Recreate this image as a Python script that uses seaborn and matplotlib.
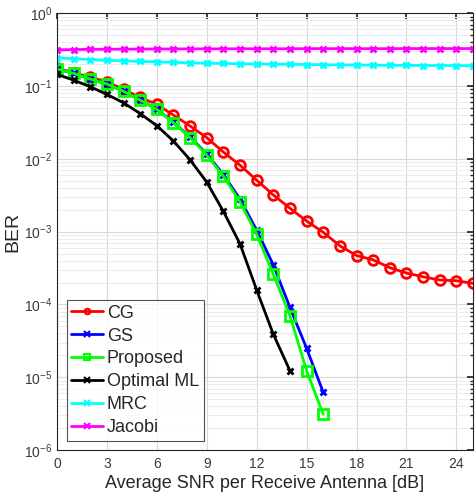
import numpy as np
import pandas as pd
import matplotlib
matplotlib.use("Agg")
import matplotlib.pyplot as plt
import seaborn as sns
from matplotlib.ticker import LogLocator, FixedLocator, NullFormatter

sns.set_theme(style="white")
plt.rcParams['font.family'] = ['Liberation Sans', 'DejaVu Sans']
plt.rcParams['mathtext.fontset'] = 'custom'
plt.rcParams['mathtext.rm'] = 'Liberation Sans'

snr_full = list(range(0, 26))
cg = [0.176, 0.153, 0.132, 0.115, 0.090, 0.070, 0.056, 0.040, 0.0283, 0.0196,
      0.0124, 0.0082, 0.0051, 0.0032, 0.0021, 0.0014, 0.00098, 0.00064, 0.00047,
      0.00041, 0.00032, 0.00027, 0.00024, 0.000217, 0.000212, 0.000195]
snr_16 = list(range(0, 17))
gs = [0.172, 0.150, 0.125, 0.107, 0.085, 0.064, 0.048, 0.0318, 0.0200, 0.0117,
      0.0061, 0.0028, 0.00105, 0.00035, 9.1e-5, 2.5e-5, 6.2e-6]
proposed = [0.172, 0.150, 0.125, 0.107, 0.085, 0.064, 0.048, 0.0314, 0.0196, 0.0113,
            0.0058, 0.00256, 0.00092, 0.00026, 7.0e-5, 1.23e-5, 3.1e-6]
snr_14 = list(range(0, 15))
optimal_ml = [0.145, 0.121, 0.098, 0.077, 0.059, 0.042, 0.0286, 0.0176, 0.0097,
              0.0048, 0.0019, 0.00068, 0.000158, 3.9e-5, 1.23e-5]
mrc = [0.245, 0.238, 0.232, 0.226, 0.222, 0.218, 0.215, 0.212, 0.209, 0.207,
       0.205, 0.203, 0.201, 0.200, 0.199, 0.198, 0.197, 0.196, 0.195, 0.194,
       0.193, 0.193, 0.192, 0.192, 0.191, 0.191]
jacobi = [0.315, 0.318, 0.320, 0.321, 0.322, 0.323, 0.324, 0.324, 0.325, 0.325,
          0.325, 0.326, 0.326, 0.326, 0.326, 0.327, 0.327, 0.327, 0.327, 0.327,
          0.327, 0.328, 0.328, 0.328, 0.328, 0.328]

series = [
    ("CG", snr_full, cg, "#ff0000", "o"),
    ("GS", snr_16, gs, "#0000ff", "x"),
    ("Proposed", snr_16, proposed, "#00ff00", "s"),
    ("Optimal ML", snr_14, optimal_ml, "#000000", "x"),
    ("MRC", snr_full, mrc, "#00ffff", "x"),
    ("Jacobi", snr_full, jacobi, "#ff00ff", "x"),
]

fig = plt.figure(figsize=(4.76, 4.94), dpi=100)
ax = fig.add_axes([0.1197, 0.089, 0.874, 0.884])

for name, x, y, c, m in series:
    df = pd.DataFrame({"snr": x, "ber": y})
    sns.lineplot(data=df, x="snr", y="ber", ax=ax, color=c, marker=m, label=name,
                 linewidth=2, markersize=7 if m != "x" else 5,
                 markerfacecolor="none" if m in ("o", "s") else c,
                 markeredgecolor=c, markeredgewidth=2)

ax.set_yscale("log")
ax.set_xlim(0, 25)
ax.set_ylim(1e-6, 1)
ax.xaxis.set_major_locator(FixedLocator([0, 3, 6, 9, 12, 15, 18, 21, 24]))
ax.yaxis.set_major_locator(LogLocator(base=10, numticks=10))
ax.yaxis.set_minor_locator(LogLocator(base=10, subs=np.arange(2, 10), numticks=20))
ax.yaxis.set_minor_formatter(NullFormatter())
ax.grid(True, which="major", color="#d9d9d9", linewidth=0.8)
ax.grid(True, which="minor", axis="y", color="#ececec", linewidth=0.7)
ax.tick_params(which="both", direction="in", top=True, right=True, colors="#262626",
               labelsize=10, labelcolor="#3a3a3a")
ax.tick_params(which="major", length=4)
ax.tick_params(which="minor", length=2)
ax.tick_params(axis="x", pad=5)
for s in ax.spines.values():
    s.set_color("#262626")
    s.set_linewidth(0.8)
    s.set_visible(True)

ax.set_xlabel("Average SNR per Receive Antenna [dB]", fontsize=13, color="#262626", labelpad=3)
ax.set_ylabel("BER", fontsize=14, color="#262626", labelpad=2)

leg = ax.legend(loc="lower left", bbox_to_anchor=(0.023, 0.021), fontsize=13,
                frameon=True, fancybox=False, borderpad=0.25, labelspacing=0.33,
                handlelength=1.75, handletextpad=0.24, borderaxespad=0.0)
leg.get_frame().set_edgecolor("#262626")
leg.get_frame().set_linewidth(0.8)
for h, (name, x, y, c, m) in zip(leg.get_lines(), series):
    h.set_markersize(4)
    h.set_markeredgewidth(1.5)
    if m in ("o", "s"):
        h.set_markerfacecolor("none")

fig.savefig("out.png", dpi=100)
